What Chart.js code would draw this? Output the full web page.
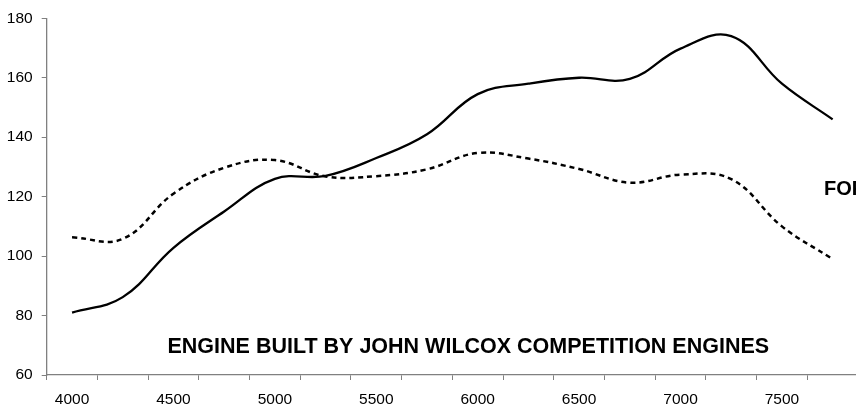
<!DOCTYPE html>
<html>
<head>
<meta charset="utf-8">
<script src="https://cdn.jsdelivr.net/npm/chart.js@4"></script>
<style>
html,body{margin:0;padding:0;overflow:hidden;background:#fff;}
#wrap{width:860px;height:406px;}
</style>
</head>
<body>
<div id="wrap"><canvas id="c" width="860" height="406"></canvas></div>
<script>
const categories = ['4000','4250','4500','4750','5000','5250','5500','5750','6000','6250','6500','6750','7000','7250','7500','7750'];
const xTickLabels = ['4000','4500','5000','5500','6000','6500','7000','7500'];
const solidSeries = [81, 86.2, 102.8, 115, 126, 127, 133, 141, 154.5, 158, 160, 159.6, 169.8, 174, 158, 146];
const dashedSeries = [106.3, 105.8, 121, 129.7, 132.3, 126.8, 126.9, 129.2, 134.7, 132.8, 129.3, 124.7, 127.4, 125.9, 110, 99];
const yTicks = [60, 80, 100, 120, 140, 160, 180];
const mainNote = 'ENGINE BUILT BY JOHN WILCOX COMPETITION ENGINES';
const sideNote = 'FORD';

const notesPlugin = {
  id: 'notes',
  afterDraw(chart) {
    const ctx = chart.ctx;
    ctx.save();
    ctx.fillStyle = '#000';
    ctx.textBaseline = 'alphabetic';
    ctx.textAlign = 'left';
    ctx.font = 'bold 21.5px "Liberation Sans", Arial, sans-serif';
    ctx.fillText(mainNote, 167.5, 353);
    ctx.font = 'bold 20px "Liberation Sans", Arial, sans-serif';
    ctx.fillText(sideNote, 824, 195);
    ctx.restore();
  }
};

new Chart(document.getElementById('c'), {
  type: 'line',
  data: {
    labels: categories,
    datasets: [
      {
        data: solidSeries,
        borderColor: '#000',
        borderWidth: 2.3,
        pointRadius: 0,
        tension: 0.4,
        fill: false
      },
      {
        data: dashedSeries,
        borderColor: '#000',
        borderWidth: 2.5,
        borderDash: [5, 4],
        pointRadius: 0,
        tension: 0.4,
        fill: false
      }
    ]
  },
  options: {
    responsive: false,
    animation: false,
    layout: { padding: { left: 0, right: 2, top: 15, bottom: 0 } },
    plugins: { legend: { display: false }, tooltip: { enabled: false } },
    scales: {
      x: {
        type: 'category',
        offset: true,
        grid: { offset: true, drawOnChartArea: false, drawTicks: true, tickLength: 5, color: '#808080', lineWidth: 1 },
        border: { display: true, color: '#808080', width: 1.3 },
        ticks: {
          autoSkip: false,
          maxRotation: 0,
          padding: 10,
          color: '#000',
          font: { family: '"Liberation Sans", Arial, sans-serif', size: 15.5 },
          callback: function(v, i) {
            const lab = this.getLabelForValue(v);
            return xTickLabels.includes(lab) ? lab : '';
          }
        },
        afterFit(scale) { scale.height = 31; }
      },
      y: {
        min: 60,
        max: 180,
        afterBuildTicks(scale) { scale.ticks = yTicks.map(v => ({ value: v })); },
        grid: { drawOnChartArea: false, drawTicks: true, tickLength: 5, color: '#808080', lineWidth: 1 },
        border: { display: true, color: '#808080', width: 1.3 },
        ticks: {
          padding: 9,
          color: '#000',
          font: { family: '"Liberation Sans", Arial, sans-serif', size: 15.5 }
        },
        afterFit(scale) { scale.width = 46.7; }
      }
    }
  },
  plugins: [notesPlugin]
});
</script>
</body>
</html>
